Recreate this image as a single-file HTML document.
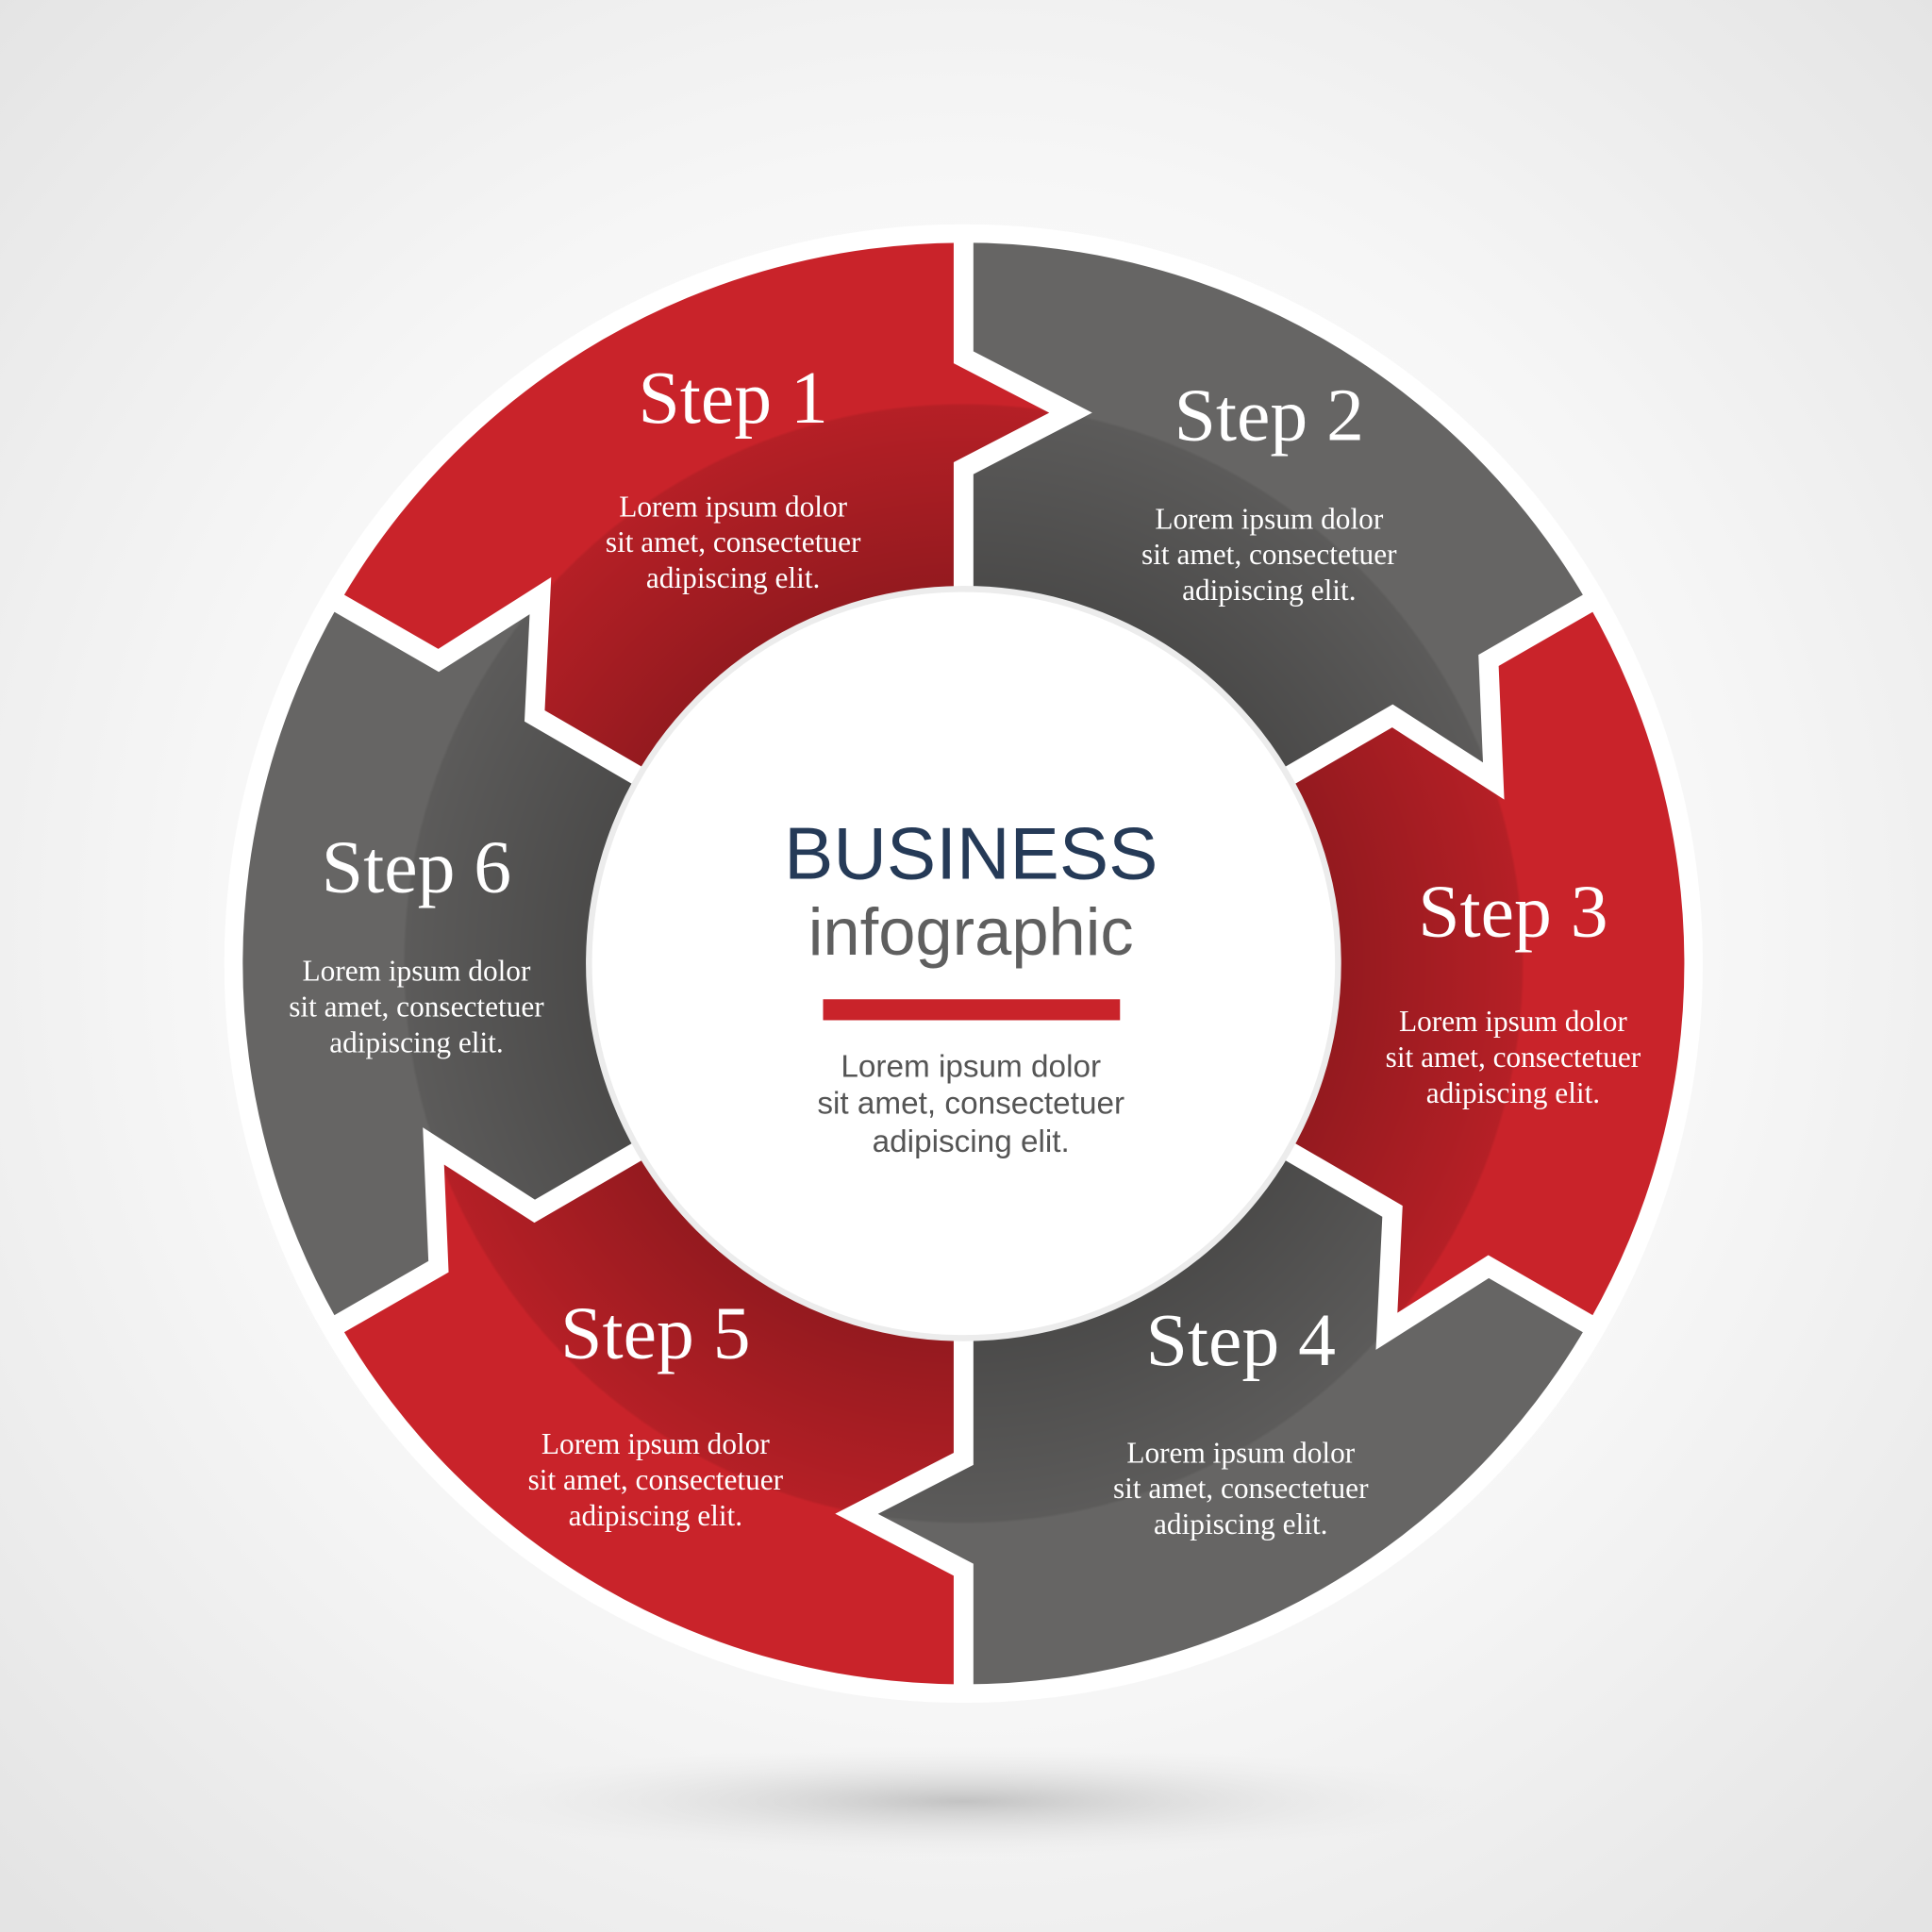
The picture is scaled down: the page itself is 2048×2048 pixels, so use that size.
<!DOCTYPE html>
<html><head><meta charset="utf-8"><style>
html,body{margin:0;padding:0;background:#f2f2f2}
svg{display:block}
.t{font-family:"Liberation Serif",serif;fill:#fff;text-anchor:middle}
.h{font-size:61px}
.b{font-size:24px}
.c{font-family:"Liberation Sans",sans-serif;text-anchor:middle}
</style></head><body>
<svg width="2048" height="2048" viewBox="0 0 1568 1568" xmlns="http://www.w3.org/2000/svg">
<defs>
<radialGradient id="bg" cx="784" cy="760" r="1100" gradientUnits="userSpaceOnUse">
<stop offset="0" stop-color="#ffffff"/><stop offset="0.55" stop-color="#f7f7f7"/><stop offset="1" stop-color="#e4e4e4"/></radialGradient>
<radialGradient id="dk" cx="782" cy="782" r="455" gradientUnits="userSpaceOnUse">
<stop offset="0.66" stop-color="#000" stop-opacity="0.27"/><stop offset="0.995" stop-color="#000" stop-opacity="0.1"/><stop offset="1" stop-color="#000" stop-opacity="0"/></radialGradient>
<radialGradient id="sh" cx="0.5" cy="0.5" r="0.5">
<stop offset="0" stop-color="#bdbdbd" stop-opacity="0.9"/><stop offset="1" stop-color="#e8e8e8" stop-opacity="0"/></radialGradient>
</defs>
<rect width="1568" height="1568" fill="url(#bg)"/>
<ellipse cx="782" cy="1462" rx="420" ry="45" fill="url(#sh)"/>
<circle cx="782" cy="782" r="600" fill="#fff"/>
<g>
<path fill="#c9232a" d="M275.4 489.5 A585 585 0 0 1 782 197 L782 290 L869 335 L782 380 L782 477 A305 305 0 0 0 517.9 629.5 L433.9 581 L438.6 483.5 L355.9 536 Z"/>
<path fill="#666564" d="M782 197 A585 585 0 0 1 1288.6 489.5 L1208.1 536 L1212.2 633.9 L1130.1 581 L1046.1 629.5 A305 305 0 0 0 782 477 L782 380 L869 335 L782 290 Z"/>
<path fill="#c9232a" d="M1288.6 489.5 A585 585 0 0 1 1288.6 1074.5 L1208.1 1028 L1125.4 1080.5 L1130.1 983 L1046.1 934.5 A305 305 0 0 0 1046.1 629.5 L1130.1 581 L1212.2 633.9 L1208.1 536 Z"/>
<path fill="#666564" d="M1288.6 1074.5 A585 585 0 0 1 782 1367 L782 1274 L695.2 1228.6 L782 1184 L782 1087 A305 305 0 0 0 1046.1 934.5 L1130.1 983 L1125.4 1080.5 L1208.1 1028 Z"/>
<path fill="#c9232a" d="M782 1367 A585 585 0 0 1 275.4 1074.5 L355.9 1028 L351.8 930.1 L433.9 983 L517.9 934.5 A305 305 0 0 0 782 1087 L782 1184 L695.2 1228.6 L782 1274 Z"/>
<path fill="#666564" d="M275.4 1074.5 A585 585 0 0 1 275.4 489.5 L355.9 536 L438.6 483.5 L433.9 581 L517.9 629.5 A305 305 0 0 0 517.9 934.5 L433.9 983 L351.8 930.1 L355.9 1028 Z"/>
</g>
<circle cx="782" cy="782" r="455" fill="url(#dk)"/>
<g fill="none" stroke="#fff" stroke-width="16" stroke-linejoin="miter">
<polyline points="782,190 782,290 869,335 782,380 782,480"/>
<polyline points="1295,486 1208.1,536 1212.2,633.9 1130.1,581 1044,631"/>
<polyline points="1295,1078 1208.1,1028 1125.4,1080.5 1130.1,983 1044,933"/>
<polyline points="782,1374 782,1274 695.2,1228.6 782,1184 782,1084"/>
<polyline points="269,1078 355.9,1028 351.8,930.1 433.9,983 520,933"/>
<polyline points="269,486 355.9,536 438.6,483.5 433.9,581 520,631"/>
</g>
<circle cx="782" cy="782" r="304" fill="#fff" stroke="#ececec" stroke-width="5"/>
<text class="c" x="788" y="713" font-size="60" fill="#253a57">BUSINESS</text>
<text class="c" x="788" y="775" font-size="54" fill="#5f5f5f">infographic</text>
<rect x="668" y="811" width="241" height="17" fill="#c9232a"/>
<g class="c" font-size="25.5" fill="#555">
<text x="788" y="874">Lorem ipsum dolor</text>
<text x="788" y="904">sit amet, consectetuer</text>
<text x="788" y="935">adipiscing elit.</text>
</g>
<g class="t">
<text class="h" x="595" y="343">Step 1</text>
<text class="b" x="595" y="419">Lorem ipsum dolor</text><text class="b" x="595" y="448">sit amet, consectetuer</text><text class="b" x="595" y="477">adipiscing elit.</text>
<text class="h" x="1030" y="357">Step 2</text>
<text class="b" x="1030" y="429">Lorem ipsum dolor</text><text class="b" x="1030" y="458">sit amet, consectetuer</text><text class="b" x="1030" y="487">adipiscing elit.</text>
<text class="h" x="1228" y="760">Step 3</text>
<text class="b" x="1228" y="837">Lorem ipsum dolor</text><text class="b" x="1228" y="866">sit amet, consectetuer</text><text class="b" x="1228" y="895">adipiscing elit.</text>
<text class="h" x="1007" y="1108">Step 4</text>
<text class="b" x="1007" y="1187">Lorem ipsum dolor</text><text class="b" x="1007" y="1216">sit amet, consectetuer</text><text class="b" x="1007" y="1245">adipiscing elit.</text>
<text class="h" x="532" y="1102">Step 5</text>
<text class="b" x="532" y="1180">Lorem ipsum dolor</text><text class="b" x="532" y="1209">sit amet, consectetuer</text><text class="b" x="532" y="1238">adipiscing elit.</text>
<text class="h" x="338" y="724">Step 6</text>
<text class="b" x="338" y="796">Lorem ipsum dolor</text><text class="b" x="338" y="825">sit amet, consectetuer</text><text class="b" x="338" y="854">adipiscing elit.</text>
</g>
</svg>
</body></html>
